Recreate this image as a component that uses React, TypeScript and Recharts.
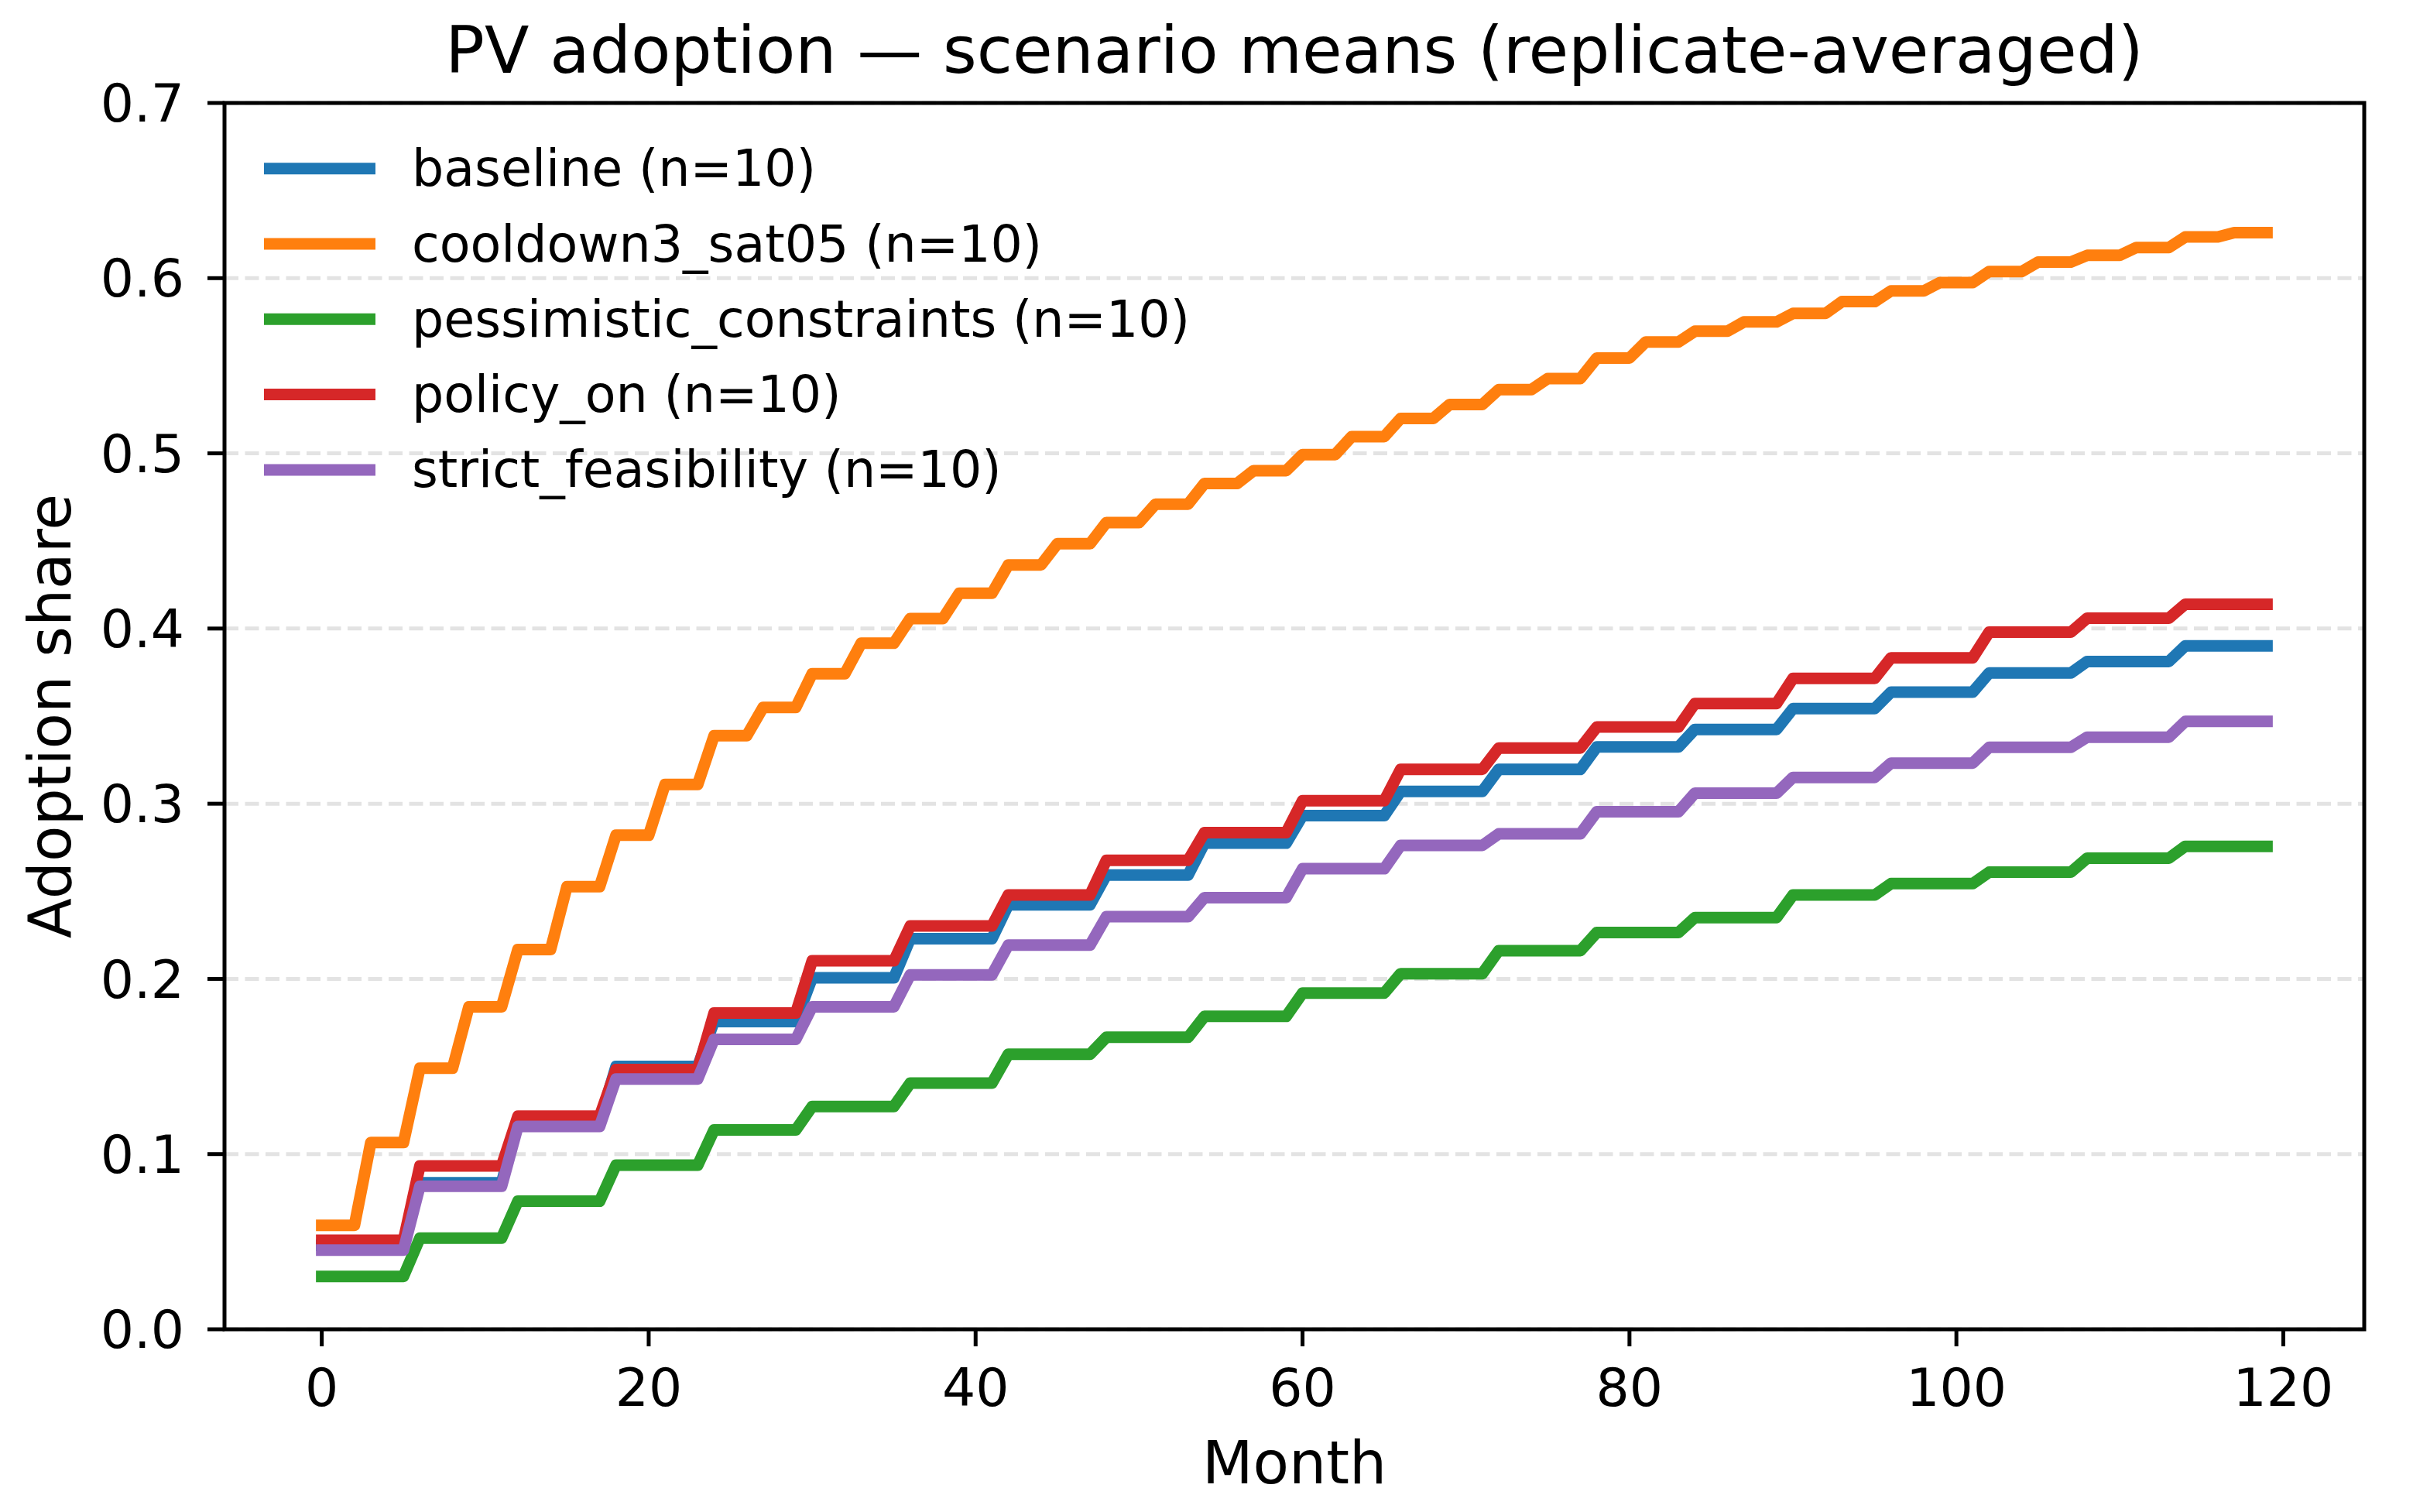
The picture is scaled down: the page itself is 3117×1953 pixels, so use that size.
import React from 'react';
import { LineChart, Line, XAxis, YAxis, CartesianGrid, Legend, ReferenceArea, Label } from 'recharts';

// ---- data (step levels; each level holds for a block of months) ----
const MONTH_COUNT = 120;
const MONTHS_PER_STEP_MAIN = 6;
const MONTHS_PER_STEP_COOLDOWN = 3;

const baselineSteps = [0.048, 0.0836, 0.1185, 0.150, 0.1757, 0.2006, 0.2229, 0.2423, 0.2593, 0.2775,
  0.2932, 0.307, 0.3196, 0.3324, 0.3424, 0.3543, 0.3637, 0.3746, 0.3812, 0.3901];
const cooldownSteps = [0.0593, 0.1066, 0.149, 0.1841, 0.2168, 0.2527, 0.282, 0.311, 0.3388, 0.355,
  0.3742, 0.3916, 0.4057, 0.4201, 0.4363, 0.4484, 0.4605, 0.471, 0.4828, 0.4901,
  0.4993, 0.5095, 0.5199, 0.5279, 0.5364, 0.5427, 0.5544, 0.5636, 0.5697, 0.575,
  0.5799, 0.5866, 0.5927, 0.5975, 0.6038, 0.6092, 0.613, 0.6175, 0.6235, 0.626];
const pessimisticSteps = [0.0302, 0.052, 0.0731, 0.0937, 0.1138, 0.1272, 0.1405, 0.157, 0.1667, 0.1786,
  0.1919, 0.203, 0.2161, 0.2265, 0.235, 0.2479, 0.2544, 0.2609, 0.2689, 0.2757];
const policySteps = [0.0508, 0.0932, 0.1216, 0.1483, 0.1805, 0.2103, 0.2302, 0.2479, 0.2677, 0.2835,
  0.3017, 0.3196, 0.3318, 0.3438, 0.3572, 0.3715, 0.3833, 0.3979, 0.4059, 0.4139];
const strictSteps = [0.0452, 0.0816, 0.1158, 0.1429, 0.1655, 0.1841, 0.2023, 0.2193, 0.2355, 0.2464,
  0.2629, 0.2762, 0.2828, 0.2954, 0.306, 0.315, 0.3232, 0.3322, 0.338, 0.347];

const seriesNames = [
  'baseline (n=10)',
  'cooldown3_sat05 (n=10)',
  'pessimistic_constraints (n=10)',
  'policy_on (n=10)',
  'strict_feasibility (n=10)',
];
const seriesKeys = ['baseline', 'cooldown', 'pessimistic', 'policy', 'strict'];
const seriesColors = ['#1f77b4', '#ff7f0e', '#2ca02c', '#d62728', '#9467bd'];

const xTicks = [0, 20, 40, 60, 80, 100, 120];
const yTicks = [0, 0.1, 0.2, 0.3, 0.4, 0.5, 0.6, 0.7];
const xDomain: [number, number] = [-5.95, 124.95];
const yDomain: [number, number] = [0, 0.7];

const titleText = 'PV adoption \u2014 scenario means (replicate-averaged)';
const xLabelText = 'Month';
const yLabelText = 'Adoption share';

// each month takes the level of the step block it falls in
const data = Array.from({ length: MONTH_COUNT }, (_, m) => ({
  month: m,
  baseline: baselineSteps[Math.floor(m / MONTHS_PER_STEP_MAIN)],
  cooldown: cooldownSteps[Math.floor(m / MONTHS_PER_STEP_COOLDOWN)],
  pessimistic: pessimisticSteps[Math.floor(m / MONTHS_PER_STEP_MAIN)],
  policy: policySteps[Math.floor(m / MONTHS_PER_STEP_MAIN)],
  strict: strictSteps[Math.floor(m / MONTHS_PER_STEP_MAIN)],
}));

const FONT = '"DejaVu Sans", "Liberation Sans", sans-serif';
const W = 3117;
const H = 1953;
const LINE_W = 15;

const renderLegend = (props: any) => {
  const payload = props.payload || [];
  const rowGap = 97.3;
  const firstY = 57.7;
  return (
    <svg width={1400} height={520} style={{ overflow: 'visible', display: 'block' }}>
      {payload.map((entry: any, i: number) => (
        <g key={i}>
          <line x1={0} x2={144} y1={firstY + i * rowGap} y2={firstY + i * rowGap}
            stroke={entry.color} strokeWidth={LINE_W} />
          <text x={191} y={firstY + i * rowGap} fontSize={65} fill="#000"
            dominantBaseline="central" fontFamily={FONT}>{entry.value}</text>
        </g>
      ))}
    </svg>
  );
};

const YLabel = (props: any) => {
  const vb = props.viewBox || { x: 0, y: 0, width: 0, height: 0 };
  const x = vb.x + 81;
  const y = vb.y + vb.height / 2;
  return (
    <text x={x} y={y} transform={`rotate(-90 ${x} ${y})`} textAnchor="middle"
      fontSize={76} fill="#000" fontFamily={FONT}>{yLabelText}</text>
  );
};

export default function App() {
  return (
    <div style={{ position: 'absolute', left: 0, top: 0, width: W, height: H, background: '#fff', fontFamily: FONT }}>
      <div style={{
        position: 'absolute', left: 290, top: 23, width: 2764, textAlign: 'center',
        fontSize: 84, lineHeight: '84px', color: '#000', whiteSpace: 'nowrap',
      }}>{titleText}</div>
      <LineChart width={W} height={H} data={data}
        margin={{ top: 133, right: 63, bottom: 36, left: 10 }}>
        <CartesianGrid vertical={false} stroke="#e3e3e3" strokeWidth={5} strokeDasharray="18 8.5" />
        <XAxis dataKey="month" type="number" domain={xDomain} ticks={xTicks} allowDataOverflow
          height={200} axisLine={false} tickLine={{ stroke: '#000', strokeWidth: 5 }} tickSize={22}
          tickMargin={29} tick={{ fill: '#000', fontSize: 68 }} interval={0}>
          <Label value={xLabelText} position="insideBottom" offset={1} fontSize={76} fill="#000" />
        </XAxis>
        <YAxis type="number" domain={yDomain} ticks={yTicks} allowDataOverflow width={280}
          axisLine={false} tickLine={{ stroke: '#000', strokeWidth: 5 }} tickSize={22} tickMargin={30}
          tick={{ fill: '#000', fontSize: 68 }} interval={0}
          tickFormatter={(v: number) => v.toFixed(1)}>
          <Label content={<YLabel />} />
        </YAxis>
        <ReferenceArea x1={xDomain[0]} x2={xDomain[1]} y1={yDomain[0]} y2={yDomain[1]}
          fill="none" fillOpacity={0} stroke="#000" strokeWidth={5} ifOverflow="visible" />
        {seriesKeys.map((k, i) => (
          <Line key={k} dataKey={k} name={seriesNames[i]} type="linear" stroke={seriesColors[i]}
            strokeWidth={LINE_W} dot={false} activeDot={false} isAnimationActive={false}
            strokeLinecap="square" strokeLinejoin="round" />
        ))}
        <Legend layout="horizontal" verticalAlign="middle" align="center" content={renderLegend}
          wrapperStyle={{ left: 341, top: 160, width: 1400, height: 520 }} />
      </LineChart>
    </div>
  );
}
